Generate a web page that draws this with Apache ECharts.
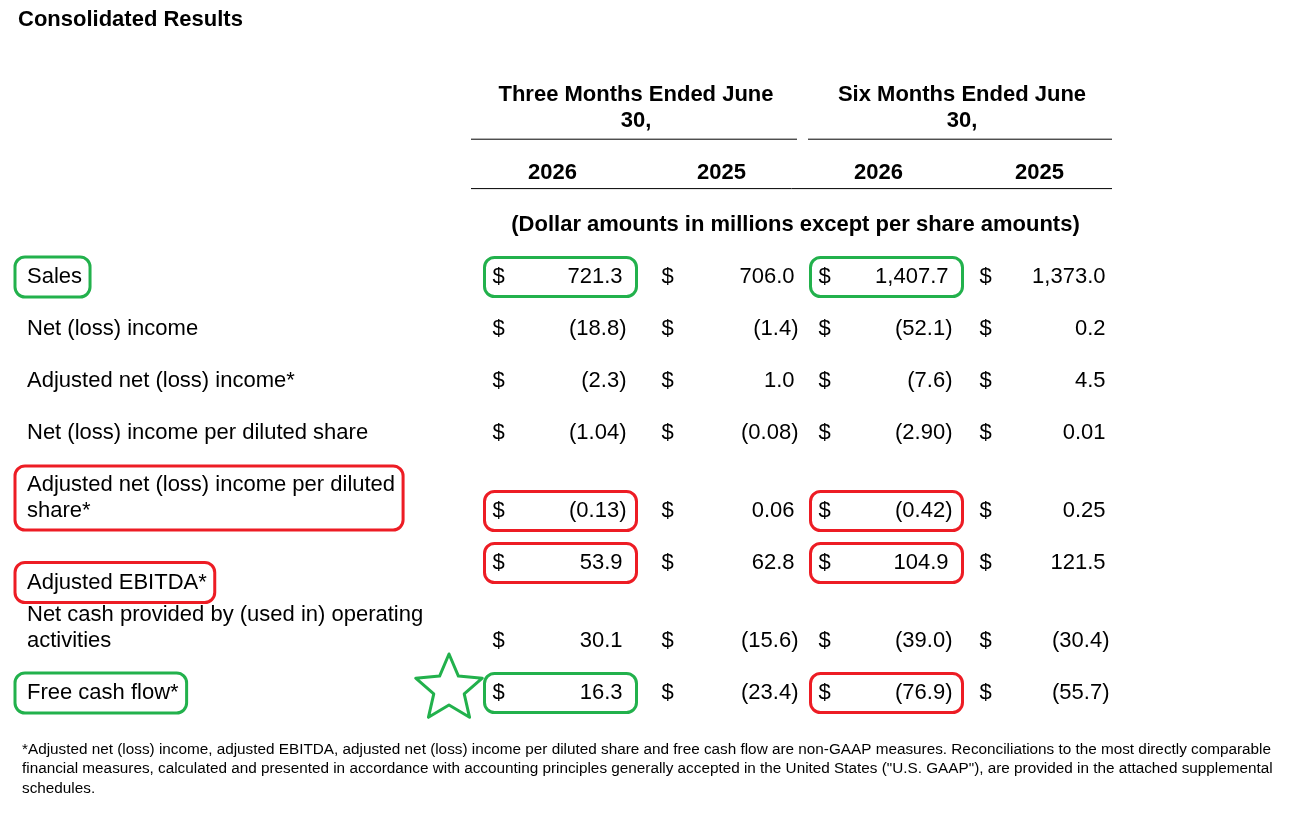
<!DOCTYPE html>
<html>
<head>
<meta charset="utf-8">
<title>Consolidated Results</title>
<style>
	html, body { margin: 0; padding: 0; background: #fff; }
	#main { width: 1302px; height: 816px; }
</style>
</head>
<body>
<div id="main"></div>
<script src="https://cdn.jsdelivr.net/npm/echarts@6/dist/echarts.min.js"></script>
<script>
// ---- data ----
var periods = ['Three Months Ended June\n30,', 'Six Months Ended June\n30,'];
var years = ['2026', '2025', '2026', '2025'];
var unitNote = '(Dollar amounts in millions except per share amounts)';
var rowLabels = [
	'Sales',
	'Net (loss) income',
	'Adjusted net (loss) income*',
	'Net (loss) income per diluted share',
	'Adjusted net (loss) income per diluted\nshare*',
	'Adjusted EBITDA*',
	'Net cash provided by (used in) operating\nactivities',
	'Free cash flow*'
];
var threeMonths2026 = [721.3, -18.8, -2.3, -1.04, -0.13, 53.9, 30.1, 16.3];
var threeMonths2025 = [706.0, -1.4, 1.0, -0.08, 0.06, 62.8, -15.6, -23.4];
var sixMonths2026 = [1407.7, -52.1, -7.6, -2.90, -0.42, 104.9, -39.0, -76.9];
var sixMonths2025 = [1373.0, 0.2, 4.5, 0.01, 0.25, 121.5, -30.4, -55.7];
var rowDecimals = [1, 1, 1, 2, 2, 1, 1, 1];
// marked up cells: [row, column] ; column -1 = row label
var greenMarks = [[0, -1], [0, 0], [0, 2], [7, -1], [7, 0]];
var redMarks = [[4, -1], [4, 0], [4, 2], [5, -1], [5, 0], [5, 2], [7, 2]];
var starRow = 7;
var footnote = [
	'*Adjusted net (loss) income, adjusted EBITDA, adjusted net (loss) income per diluted share and free cash flow are non-GAAP measures. Reconciliations to the most directly comparable',
	'financial measures, calculated and presented in accordance with accounting principles generally accepted in the United States ("U.S. GAAP"), are provided in the attached supplemental',
	'schedules.'
];

// ---- layout (text line slots on the y axis) ----
var valueLine = [0, 2, 4, 6, 9, 11, 14, 16];
var labelLine = [0, 2, 4, 6, 8.5, 11.75, 13.5, 16];
var dollarNudge = [0, 6, 0, -2];
var valueNudge = [0, 9, 0, -6];
var FONT = '22px "Liberation Sans", Arial, sans-serif';
var BOLD = 'bold 22px "Liberation Sans", Arial, sans-serif';
var GREEN = '#22b14c';
var RED = '#ed1c24';
var columns = [threeMonths2026, threeMonths2025, sixMonths2026, sixMonths2025];

var measureCtx = document.createElement('canvas').getContext('2d');
function textWidth(txt, font) {
	measureCtx.font = font;
	var w = 0;
	txt.split('\n').forEach(function (l) { w = Math.max(w, measureCtx.measureText(l).width); });
	return w;
}
function fmt(v, d) {
	var s = Math.abs(v).toFixed(d).replace(/\B(?=(\d{3})+(?!\d))/g, ',');
	return v < 0 ? '(' + s + ')' : s;
}
function labelX(params) {
	return params.coordSys.x - 444;
}

var cellData = [];
columns.forEach(function (col, c) {
	col.forEach(function (v, r) {
		cellData.push([c, valueLine[r], r, v]);
	});
});
var labelData = rowLabels.map(function (l, r) { return [0, labelLine[r], r]; });
var yearData = years.map(function (y, c) { return [c, -4, c]; });
var markData = [];
greenMarks.forEach(function (m) { markData.push([Math.max(m[1], 0), m[1] < 0 ? labelLine[m[0]] : valueLine[m[0]], m[0], m[1], 0]); });
redMarks.forEach(function (m) { markData.push([Math.max(m[1], 0), m[1] < 0 ? labelLine[m[0]] : valueLine[m[0]], m[0], m[1], 1]); });

var myChart = echarts.init(document.getElementById('main'));
var option = {
	animation: false,
	backgroundColor: '#fff',
	title: {
		text: 'Consolidated Results',
		left: 18,
		top: 9,
		padding: 0,
		textStyle: { fontFamily: 'Liberation Sans', fontSize: 22, fontWeight: 'bold', color: '#000' }
	},
	grid: { left: 471, right: 179, top: 17, bottom: 19 },
	xAxis: { type: 'category', data: years, show: false },
	yAxis: { type: 'value', min: -10, max: 20, inverse: true, show: false },
	graphic: [{
		type: 'text',
		left: 22,
		top: 740,
		style: {
			text: footnote.join('\n'),
			font: '15.3px "Liberation Sans", Arial, sans-serif',
			lineHeight: 19.5,
			fill: '#000'
		}
	}],
	series: [
		// column headers
		{
			type: 'custom',
			data: yearData,
			renderItem: function (params, api) {
				var p = api.coord([api.value(0), api.value(1)]);
				var bw = api.size([1, 0])[0];
				var c = api.value(2);
				var children = [{
					type: 'text', x: p[0] + dollarNudge[c], y: p[1],
					style: { text: years[c], font: BOLD, fill: '#000', align: 'center', verticalAlign: 'middle' }
				}];
				if (c % 2 === 0) {
					var g = c / 2;
					var left = p[0] - bw / 2 + g * 11;
					var right = p[0] + bw * 1.5 - g * 11;
					var lineY = api.coord([0, -5.3])[1];
					children.push({
						type: 'text', x: (left + right) / 2 + 2, y: api.coord([0, -6.5])[1],
						style: { text: periods[g], font: BOLD, fill: '#000', align: 'center', verticalAlign: 'middle', lineHeight: 26 }
					});
					children.push({
						type: 'line', shape: { x1: left, y1: lineY, x2: right, y2: lineY },
						style: { stroke: '#000', lineWidth: 1 }
					});
				}
				if (c === 0) {
					var l0 = p[0] - bw / 2;
					var r0 = l0 + bw * 4 - 11;
					var y2 = api.coord([0, -3.4])[1];
					children.push({
						type: 'line', shape: { x1: l0, y1: y2, x2: r0, y2: y2 },
						style: { stroke: '#000', lineWidth: 1 }
					});
					children.push({
						type: 'text', x: (l0 + r0) / 2 + 4, y: api.coord([0, -2])[1],
						style: { text: unitNote, font: BOLD, fill: '#000', align: 'center', verticalAlign: 'middle' }
					});
				}
				return { type: 'group', children: children };
			}
		},
		// row labels
		{
			type: 'custom',
			data: labelData,
			renderItem: function (params, api) {
				var p = api.coord([0, api.value(1)]);
				return {
					type: 'text', x: labelX(params), y: p[1],
					style: { text: rowLabels[api.value(2)], font: FONT, fill: '#000', align: 'left', verticalAlign: 'middle', lineHeight: 26 }
				};
			}
		},
		// values
		{
			type: 'custom',
			data: cellData,
			renderItem: function (params, api) {
				var c = api.value(0);
				var p = api.coord([c, api.value(1)]);
				var v = api.value(3);
				return {
					type: 'group',
					children: [{
						type: 'text', x: p[0] - 54 + dollarNudge[c], y: p[1],
						style: { text: '$', font: FONT, fill: '#000', align: 'center', verticalAlign: 'middle' }
					}, {
						type: 'text', x: p[0] + 70 + valueNudge[c] + (v < 0 ? 4 : 0), y: p[1],
						style: { text: fmt(v, rowDecimals[api.value(2)]), font: FONT, fill: '#000', align: 'right', verticalAlign: 'middle' }
					}]
				};
			}
		},
		// hand drawn marks
		{
			type: 'custom',
			data: markData,
			renderItem: function (params, api) {
				var p = api.coord([api.value(0), api.value(1)]);
				var row = api.value(2);
				var color = api.value(4) ? RED : GREEN;
				var x, y, w, h;
				if (api.value(3) < 0) {
					var txt = rowLabels[row];
					var lines = txt.split('\n').length;
					x = labelX(params) - 12;
					w = textWidth(txt, FONT) + 20;
					h = lines > 1 ? 64 : 40;
					y = p[1] - h / 2;
				} else {
					x = p[0] - 68;
					w = 152;
					h = 39;
					y = p[1] - h / 2;
				}
				return {
					type: 'rect',
					shape: { x: x, y: y, width: w, height: h, r: 10 },
					style: { fill: 'none', stroke: color, lineWidth: 3 }
				};
			}
		},
		// star
		{
			type: 'custom',
			data: [[0, valueLine[starRow]]],
			renderItem: function (params, api) {
				var p = api.coord([0, api.value(1)]);
				var cx = p[0] - 103.5, cy = p[1] - 4;
				var R = 35, r = 16, pts = [];
				for (var i = 0; i < 10; i++) {
					var a = -Math.PI / 2 + i * Math.PI / 5;
					var rad = i % 2 ? r : R;
					pts.push([cx + rad * Math.cos(a), cy + rad * Math.sin(a)]);
				}
				return {
					type: 'polygon',
					shape: { points: pts },
					style: { fill: 'none', stroke: GREEN, lineWidth: 3, lineJoin: 'round' }
				};
			}
		}
	]
};
myChart.setOption(option);
</script>
</body>
</html>
